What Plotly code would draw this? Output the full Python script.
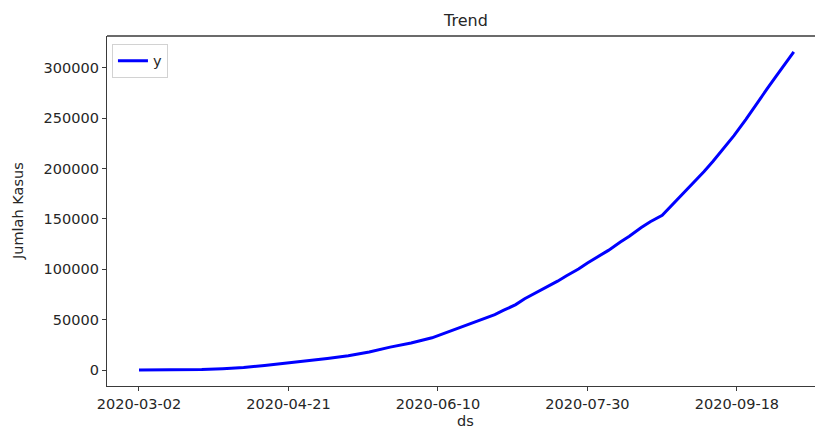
import pandas as pd
import plotly.graph_objects as go

# Cumulative case counts (trend component), sampled a few days apart
dates = [
    "2020-03-02", "2020-03-09", "2020-03-16", "2020-03-23", "2020-03-30",
    "2020-04-06", "2020-04-13", "2020-04-20", "2020-04-27", "2020-05-04",
    "2020-05-11", "2020-05-18", "2020-05-25", "2020-06-01", "2020-06-08",
    "2020-06-11", "2020-06-15", "2020-06-18", "2020-06-22", "2020-06-25",
    "2020-06-29", "2020-07-02", "2020-07-06", "2020-07-09", "2020-07-13",
    "2020-07-16", "2020-07-20", "2020-07-23", "2020-07-27", "2020-07-30",
    "2020-08-03", "2020-08-06", "2020-08-10", "2020-08-13", "2020-08-17",
    "2020-08-20", "2020-08-24", "2020-08-27", "2020-08-31", "2020-09-03",
    "2020-09-07", "2020-09-10", "2020-09-14", "2020-09-17", "2020-09-21",
    "2020-09-24", "2020-09-28", "2020-10-01", "2020-10-05", "2020-10-07",
]
cases = [
    2, 19, 134, 579, 1414,
    2491, 4557, 6760, 9096, 11587,
    14265, 18010, 22750, 26940, 32033,
    35295, 39294, 42762, 46845, 50187,
    55092, 59394, 64958, 70736, 76981,
    81668, 88214, 93657, 100303, 106336,
    113134, 118753, 127083, 132816, 141370,
    147211, 153535, 162884, 174796, 184268,
    196989, 207203, 221523, 232628, 248852,
    262022, 278722, 291182, 307120, 315714,
]

x_tick_labels = ["2020-03-02", "2020-04-21", "2020-06-10", "2020-07-30", "2020-09-18"]
y_tick_values = [0, 50000, 100000, 150000, 200000, 250000, 300000]

series_name = "y"
title_text = "Trend"
x_title = "ds"
y_title = "Jumlah Kasus"

FONT = "DejaVu Sans"
TEXT = "#262626"
AXIS = "#3a3a3a"

ds = pd.to_datetime(dates)
x_start = ds[0] - pd.Timedelta(days=10.7)
x_end = x_start + pd.Timedelta(days=236.8)

fig = go.Figure()
fig.add_trace(go.Scatter(
    x=ds, y=cases, mode="lines", name=series_name,
    line=dict(color="#0000ff", width=3),
))

fig.update_layout(
    width=815, height=430,
    margin=dict(l=107, r=0, t=36, b=44),
    paper_bgcolor="white", plot_bgcolor="white",
    font=dict(family=FONT, size=14.5, color=TEXT),
    showlegend=True,
    legend=dict(
        x=0.007, y=0.978, xanchor="left", yanchor="top",
        bgcolor="white", bordercolor="#d2d2d2", borderwidth=1,
        font=dict(family=FONT, size=14.5, color=TEXT),
        itemwidth=30,
    ),
    xaxis=dict(
        range=[x_start, x_end],
        tickmode="array",
        tickvals=pd.to_datetime(x_tick_labels),
        ticktext=x_tick_labels,
        showgrid=False, zeroline=False,
        showline=True, linecolor=AXIS, linewidth=1.3,
        ticks="outside", ticklen=4, tickcolor=AXIS, tickwidth=1,
    ),
    yaxis=dict(
        range=[-15800, 331500],
        tickmode="array",
        tickvals=y_tick_values,
        ticktext=[str(v) for v in y_tick_values],
        showgrid=False, zeroline=False,
        showline=True, linecolor=AXIS, linewidth=1.3,
        ticks="outside", ticklen=4, tickcolor=AXIS, tickwidth=1,
    ),
    shapes=[
        dict(type="line", xref="paper", yref="paper", x0=0, x1=1, y0=1, y1=1,
             line=dict(color=AXIS, width=1.3)),
    ],
    annotations=[
        dict(text=title_text, xref="paper", yref="paper", x=0.507, y=1,
             yshift=16, showarrow=False, xanchor="center", yanchor="middle",
             font=dict(family=FONT, size=16, color=TEXT)),
        dict(text=x_title, xref="paper", yref="paper", x=0.507, y=0,
             yshift=-35, showarrow=False, xanchor="center", yanchor="middle",
             font=dict(family=FONT, size=14.5, color=TEXT)),
        dict(text=y_title, xref="paper", yref="paper", x=0, y=0.5,
             xshift=-89, showarrow=False, xanchor="center", yanchor="middle",
             textangle=-90,
             font=dict(family=FONT, size=14.5, color=TEXT)),
    ],
)

fig.write_html("out.html")
